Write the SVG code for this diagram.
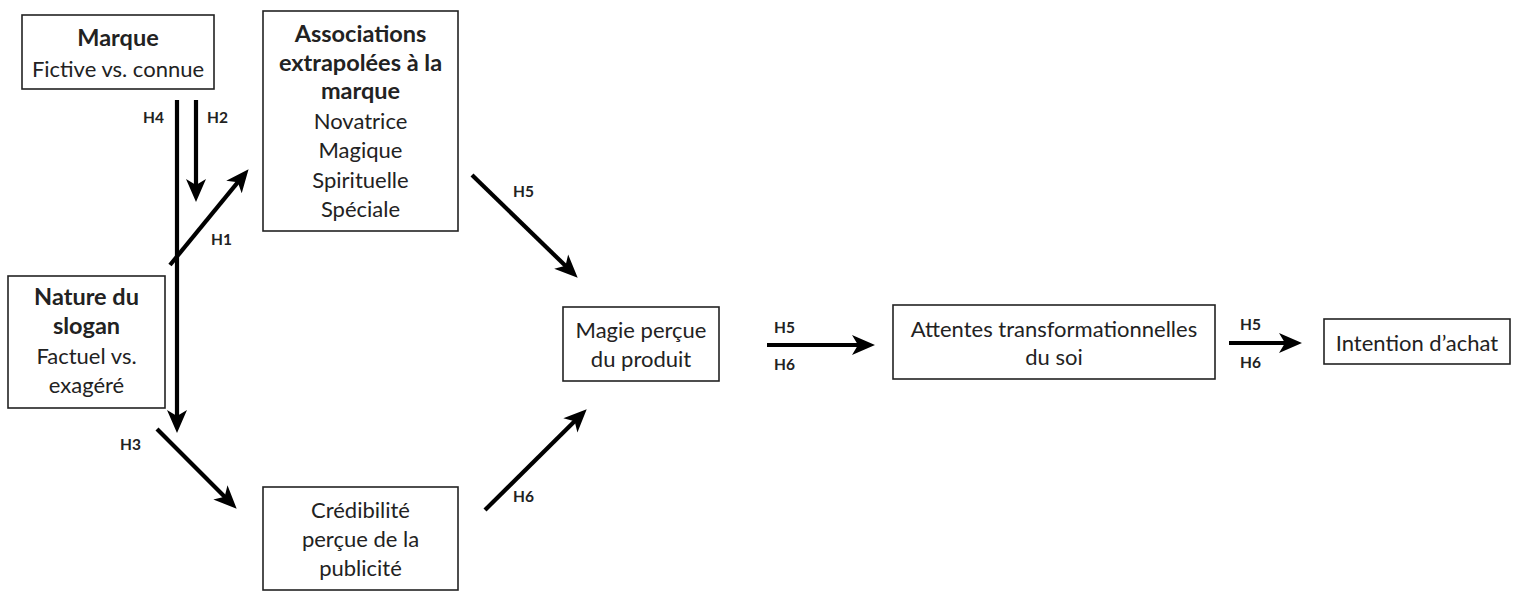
<svg xmlns="http://www.w3.org/2000/svg" width="1524" height="592" viewBox="0 0 1524 592">
<style>
.box{fill:#fff;stroke:#222;stroke-width:1.6}
.t{font-family:Lato,"Open Sans","Liberation Sans",sans-serif;font-size:22px;fill:#222;text-anchor:middle}
.b{font-weight:bold;font-size:23.5px}
.lbl{font-family:Lato,"Open Sans","Liberation Sans",sans-serif;font-size:15.5px;font-weight:bold;fill:#222}
.arr{stroke:#000;stroke-width:4.2;fill:none;marker-end:url(#ah)}
</style>
<defs>
<marker id="ah" markerUnits="userSpaceOnUse" markerWidth="24" markerHeight="22" viewBox="0 0 24 22" refX="12" refY="11" orient="auto">
<path d="M0,1 L23,11 L0,21 L6,11 Z" fill="#000"/>
</marker>
</defs>
<rect width="1524" height="592" fill="#fff"/>
<g id="connectors">
<path class="arr" d="M177,100 L177,422"/>
<path class="arr" d="M196,100 L196,191"/>
<path class="arr" d="M170,265 L241.6,177.7"/>
<path class="arr" d="M157,429 L228.9,500.9"/>
<path class="arr" d="M472,175 L569.8,270"/>
<path class="arr" d="M485,510 L578.9,417"/>
<path class="arr" d="M767,345 L864,345"/>
<path class="arr" d="M1229,343 L1291,343"/>
<text class="lbl" x="143" y="123">H4</text>
<text class="lbl" x="207" y="123">H2</text>
<text class="lbl" x="211" y="245">H1</text>
<text class="lbl" x="120" y="450">H3</text>
<text class="lbl" x="513" y="197">H5</text>
<text class="lbl" x="513" y="502">H6</text>
<text class="lbl" x="774" y="333">H5</text>
<text class="lbl" x="774" y="370">H6</text>
<text class="lbl" x="1240" y="330">H5</text>
<text class="lbl" x="1240" y="368">H6</text>
</g>
<g id="marque">
<rect class="box" x="22" y="15" width="192" height="74"/>
<text class="t b" x="118" y="46">Marque</text>
<text class="t" x="118" y="77">Fictive vs. connue</text>
</g>
<g id="associations">
<rect class="box" x="263" y="11" width="195" height="220"/>
<text class="t b" x="360.5" y="42">Associations</text>
<text class="t b" x="360.5" y="71">extrapolées à la</text>
<text class="t b" x="360.5" y="99">marque</text>
<text class="t" x="360.5" y="129">Novatrice</text>
<text class="t" x="360.5" y="158">Magique</text>
<text class="t" x="360.5" y="188">Spirituelle</text>
<text class="t" x="360.5" y="217">Spéciale</text>
</g>
<g id="nature">
<rect class="box" x="8" y="276" width="157" height="132"/>
<text class="t b" x="86.5" y="305">Nature du</text>
<text class="t b" x="86.5" y="334">slogan</text>
<text class="t" x="86.5" y="364">Factuel vs.</text>
<text class="t" x="86.5" y="393">exagéré</text>
</g>
<g id="credibilite">
<rect class="box" x="263" y="487" width="195" height="103"/>
<text class="t" x="360.5" y="518">Crédibilité</text>
<text class="t" x="360.5" y="547">perçue de la</text>
<text class="t" x="360.5" y="576">publicité</text>
</g>
<g id="magie">
<rect class="box" x="563" y="307" width="156" height="74"/>
<text class="t" x="641" y="338">Magie perçue</text>
<text class="t" x="641" y="367">du produit</text>
</g>
<g id="attentes">
<rect class="box" x="893" y="305" width="322" height="74"/>
<text class="t" x="1054" y="337">Attentes transformationnelles</text>
<text class="t" x="1054" y="365">du soi</text>
</g>
<g id="intention">
<rect class="box" x="1324" y="319" width="186" height="45"/>
<text class="t" x="1417" y="351">Intention d’achat</text>
</g>
</svg>
